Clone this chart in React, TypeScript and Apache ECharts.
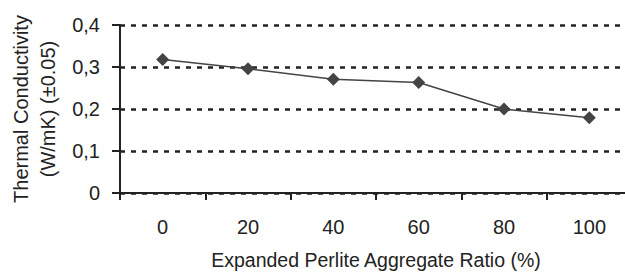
import React, { useEffect, useRef } from "react";
import * as echarts from "echarts";

const categories = ["0", "20", "40", "60", "80", "100"];
const conductivity = [0.318, 0.296, 0.271, 0.263, 0.2, 0.179];
const yTicks = { min: 0, max: 0.4, interval: 0.1 };
const xName = "Expanded Perlite Aggregate Ratio (%)";
const yName = "Thermal Conductivity\n(W/mK) (±0.05)";

export default function App() {
  const ref = useRef<HTMLDivElement>(null);
  useEffect(() => {
    if (!ref.current) return;
    const chart = echarts.init(ref.current, null, { renderer: "svg" });
    const font = "Liberation Sans, Arial, sans-serif";
    chart.setOption({
      animation: false,
      grid: { left: 120, top: 25, width: 512, bottom: 80, outerBoundsMode: "none", containLabel: false },
      xAxis: {
        type: "category",
        data: categories,
        boundaryGap: true,
        name: xName,
        nameLocation: "middle",
        nameGap: 56,
        nameTextStyle: { fontSize: 19.5, color: "#222", fontFamily: font, lineHeight: 22 },
        axisLine: { lineStyle: { color: "#222", width: 2 } },
        axisTick: { show: true, length: 7, interval: 0, lineStyle: { color: "#222", width: 2 } },
        axisLabel: { fontSize: 20, color: "#222", fontFamily: font, margin: 24 },
        splitLine: { show: false },
      },
      yAxis: {
        type: "value",
        min: yTicks.min,
        max: yTicks.max,
        interval: yTicks.interval,
        name: yName,
        nameLocation: "middle",
        nameRotate: 90,
        nameGap: 59,
        nameTextStyle: { fontSize: 20, color: "#222", fontFamily: font, lineHeight: 27, align: "center" },
        axisLine: { show: true, lineStyle: { color: "#222", width: 2 } },
        axisTick: { show: true, length: 8, lineStyle: { color: "#222", width: 2 } },
        axisLabel: {
          fontSize: 20,
          color: "#222",
          fontFamily: font,
          margin: 20,
          formatter: (v: number) => (v === 0 ? "0" : v.toFixed(1).replace(".", ",")),
        },
        splitLine: {
          show: true,
          lineStyle: { color: "#222", width: 2.5, type: [5, 6] },
        },
      },
      series: [
        {
          type: "line",
          data: conductivity,
          symbol: "diamond",
          symbolSize: 13,
          itemStyle: { color: "#444" },
          lineStyle: { color: "#444", width: 1.5 },
        },
      ],
    });
    return () => chart.dispose();
  }, []);
  return (
    <div
      ref={ref}
      style={{ position: "absolute", left: 0, top: 0, width: 625, height: 273, background: "#fff" }}
    />
  );
}
